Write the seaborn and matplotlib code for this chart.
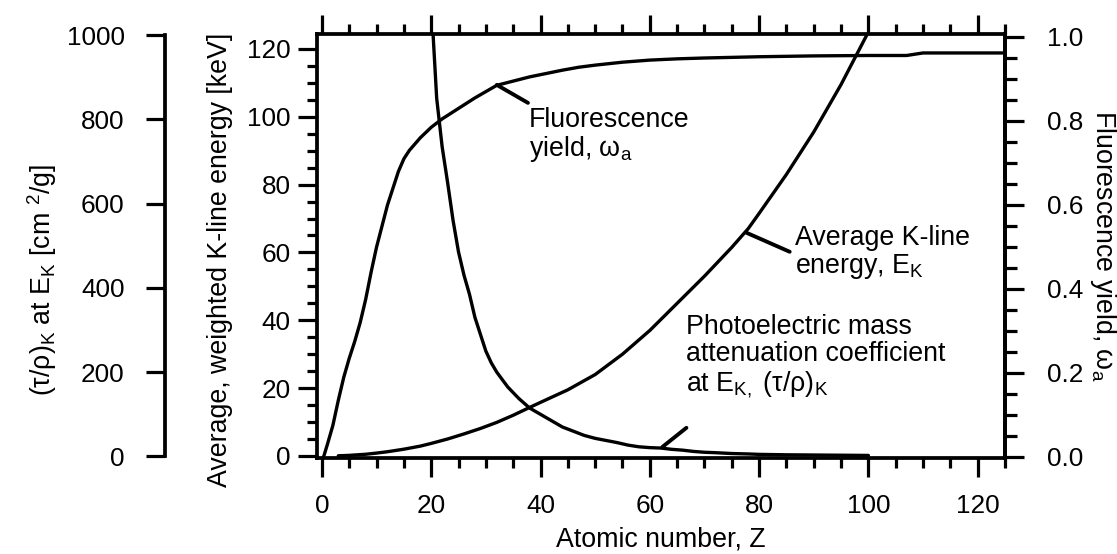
import numpy as np
import pandas as pd
import matplotlib
matplotlib.use("Agg")
import matplotlib.pyplot as plt
import seaborn as sns
from matplotlib.ticker import MultipleLocator

# ---------------- data ----------------
z_yield = [0.3, 1, 2, 3, 4, 5, 6, 7, 8, 9, 10, 11, 12, 13, 14, 15, 16, 17, 18, 20,
           22, 25, 28, 30, 32, 35, 38, 41, 44, 47, 50, 55, 60, 65, 70, 80, 90, 100,
           107, 110, 125]
yield_vals = [0.0, 0.03, 0.075, 0.135, 0.19, 0.235, 0.275, 0.32, 0.375, 0.44, 0.50, 0.55,
              0.60, 0.64, 0.68, 0.71, 0.73, 0.745, 0.76, 0.785, 0.805, 0.83, 0.855,
              0.87, 0.885, 0.895, 0.905, 0.913, 0.921, 0.928, 0.933, 0.94, 0.945,
              0.948, 0.95, 0.953, 0.955, 0.956, 0.956, 0.962, 0.962]

z_energy = [3, 5, 8, 10, 12, 15, 18, 20, 23, 26, 29, 32, 35, 38, 40, 45, 50, 55, 60,
            65, 70, 75, 78, 80, 85, 90, 95, 100]
energy_kev = [0.05, 0.18, 0.5, 0.85, 1.25, 2.0, 2.9, 3.7, 5.0, 6.5, 8.1, 9.9, 12.0,
              14.3, 15.8, 19.5, 24.0, 30.0, 37.0, 45.0, 53.0, 61.5, 67.0, 71.5, 83.0,
              95.5, 109.5, 125.0]

z_atten = [20, 21, 22, 23, 24, 25, 26, 27, 28, 29, 30, 31, 32, 34, 36, 38, 40, 42, 44,
           46, 48, 50, 52, 54, 56, 58, 60, 62, 64, 66, 68, 70, 72, 75, 78, 80, 85, 90,
           95, 100]
atten_vals = [1080, 850, 735, 650, 560, 485, 430, 385, 330, 290, 250, 222, 200, 165,
              138, 115, 100, 85, 70, 60, 50, 43, 38, 33, 27, 23, 21, 20, 17, 15, 12,
              10, 9, 7, 6, 5, 4, 3.5, 3, 2.5]

x_ticks = [0, 20, 40, 60, 80, 100, 120]
energy_ticks = [0, 20, 40, 60, 80, 100, 120]
atten_ticks = [0, 200, 400, 600, 800, 1000]
yield_ticks = [0.0, 0.2, 0.4, 0.6, 0.8, 1.0]

df_yield = pd.DataFrame({"Z": z_yield, "w": yield_vals})
df_energy = pd.DataFrame({"Z": z_energy, "E": energy_kev})
df_atten = pd.DataFrame({"Z": z_atten, "t": atten_vals})

# ---------------- style ----------------
sns.set_theme(style="ticks")
plt.rcParams['font.family'] = ['Liberation Sans', 'DejaVu Sans']
plt.rcParams['mathtext.fontset'] = 'custom'
plt.rcParams['mathtext.rm'] = 'Liberation Sans'
plt.rcParams['mathtext.it'] = 'Liberation Sans:italic'
plt.rcParams['mathtext.bf'] = 'Liberation Sans:bold'
plt.rcParams['mathtext.sf'] = 'Liberation Sans'
plt.rcParams['axes.edgecolor'] = 'black'
plt.rcParams['text.color'] = 'black'
plt.rcParams['axes.labelcolor'] = 'black'
plt.rcParams['xtick.color'] = 'black'
plt.rcParams['ytick.color'] = 'black'

FS_TICK = 18.8
FS = 19.3
SPINE_LW = 2.7
TICK_W = 2.3
MAJ = 14.0
MIN = 7.5
LINE_LW = 2.4

fig = plt.figure(figsize=(11.17, 5.54), dpi=100)
ax = fig.add_axes([317 / 1117, 1 - 458 / 554, (1005 - 317) / 1117, (458 - 34) / 554])
ax_r = ax.twinx()
ax_o = ax.twinx()

sns.lineplot(data=df_energy, x="Z", y="E", ax=ax, color="black", lw=LINE_LW)
sns.lineplot(data=df_yield, x="Z", y="w", ax=ax_r, color="black", lw=LINE_LW)
sns.lineplot(data=df_atten, x="Z", y="t", ax=ax_o, color="black", lw=LINE_LW)

# limits
ax.set_xlim(-0.9, 125)
ax.set_ylim(-0.6, 124.4)
ax_r.set_ylim(-1 / 420, 1 + 3 / 420)
ax_o.set_ylim(-3.6, 1002.4)

# main axis (inner left + x)
for s in ax.spines.values():
    s.set_linewidth(SPINE_LW)
    s.set_visible(True)
ax.set_xticks(x_ticks)
ax.set_yticks(energy_ticks)
ax.xaxis.set_minor_locator(MultipleLocator(5))
ax.yaxis.set_minor_locator(MultipleLocator(5))
ax.tick_params(axis='x', which='both', direction='out', top=True, bottom=True,
               labeltop=False, labelbottom=True, width=TICK_W)
ax.tick_params(axis='y', which='both', direction='out', left=True, right=False,
               width=TICK_W)
ax.tick_params(which='major', length=MAJ, labelsize=FS_TICK)
ax.tick_params(which='minor', length=MIN)
ax.tick_params(axis='x', which='major', pad=12)
ax.tick_params(axis='y', which='major', pad=5)

# right axis (yield)
for k, s in ax_r.spines.items():
    s.set_visible(k == 'right')
    s.set_linewidth(SPINE_LW)
ax_r.set_yticks(yield_ticks)
ax_r.set_yticklabels([f"{v:.1f}" for v in yield_ticks])
ax_r.yaxis.set_minor_locator(MultipleLocator(0.05))
ax_r.tick_params(axis='y', which='both', direction='out', width=TICK_W, right=True, left=False)
ax_r.tick_params(axis='y', which='major', length=MAJ, labelsize=FS_TICK, pad=16)
ax_r.tick_params(axis='y', which='minor', length=MIN + 1)

# outer left axis (attenuation)
for k, s in ax_o.spines.items():
    s.set_visible(k == 'left')
ax_o.spines['left'].set_position(('axes', (165 - 317) / 688))
ax_o.spines['left'].set_linewidth(SPINE_LW)
ax_o.spines['left'].set_bounds(0, 1000)
ax_o.yaxis.set_ticks_position('left')
ax_o.yaxis.set_label_position('left')
ax_o.set_yticks(atten_ticks)
ax_o.tick_params(axis='y', which='major', direction='out', length=MAJ, width=TICK_W,
                 labelsize=FS_TICK, pad=15, left=True, right=False)
ax_o.tick_params(axis='y', which='minor', left=False, right=False)

# axis labels
ax.set_xlabel("Atomic number, Z", fontsize=FS, labelpad=6)
ax.set_ylabel("Average, weighted K-line energy [keV]", fontsize=FS)
ax.yaxis.label.set_va('center')
ax.yaxis.set_label_coords((220 - 317) / 688, 0.467)
ax_r.set_ylabel("Fluorescence yield, ω$_\\mathrm{a}$", fontsize=FS, rotation=-90)
ax_r.yaxis.label.set_va('center')
ax_r.yaxis.set_label_coords((1103 - 317) / 688, 0.5)
ax_o.set_ylabel("(τ/ρ)$_\\mathrm{K}$ at E$_\\mathrm{K}$ [cm $^{2}$/g]", fontsize=FS)
ax_o.yaxis.label.set_va('center')
ax_o.yaxis.set_label_coords((42 - 317) / 688, 0.42)

# in-plot labels with pointer lines
arrow = dict(arrowstyle='-', lw=2.8, color='black', shrinkA=0, shrinkB=0)
ax.annotate('', xy=(32, 109.4), xytext=(37.7, 104.1), arrowprops=arrow)
ax.text(37.9, 103.0, "Fluorescence\nyield, ω$_\\mathrm{a}$", fontsize=FS, ha='left',
        va='top', linespacing=1.05)

ax.annotate('', xy=(77.7, 65.8), xytext=(85.6, 60.2), arrowprops=arrow)
ax.text(86.6, 68.0, "Average K-line\nenergy, E$_\\mathrm{K}$", fontsize=FS, ha='left',
        va='top', linespacing=1.05)

ax.annotate('', xy=(62.3, 2.65), xytext=(66.7, 8.3), arrowprops=arrow)
ax.text(66.7, 42.0, "Photoelectric mass\nattenuation coefficient\nat E$_{\\mathrm{K,}}$ (τ/ρ)$_\\mathrm{K}$",
        fontsize=FS, ha='left', va='top', linespacing=1.08)

fig.savefig("out.png", dpi=100)
